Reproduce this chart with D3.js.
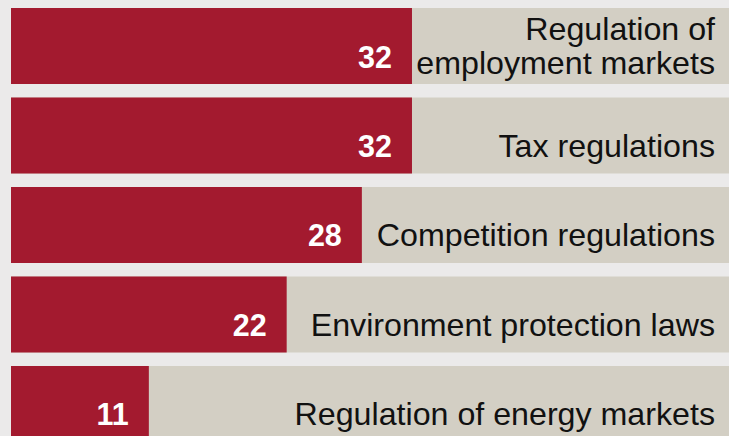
<!DOCTYPE html>
<html>
<head>
<meta charset="utf-8">
<script src="https://cdn.jsdelivr.net/npm/d3@7"></script>
<style>
  body { margin: 0; background: #ebeaea; }
  svg { display: block; }
  text { font-family: "Liberation Sans", Arial, sans-serif; }
</style>
</head>
<body>
<svg id="chart"></svg>
<script>
// categories (line breaks as in the original) and values
let categories = [
  ["Regulation of", "employment markets"],
  ["Tax regulations"],
  ["Competition regulations"],
  ["Environment protection laws"],
  ["Regulation of energy markets"]
];
let values = [32, 32, 28, 22, 11];

let width = 729, height = 436;

let svg = d3.select("#chart")
  .attr("width", width)
  .attr("height", height);

svg.append("rect")
  .attr("width", width)
  .attr("height", height)
  .attr("fill", "#ebeaea");

let x = d3.scaleLinear()
  .domain([0, 57.3])
  .range([11, width]);

let y = d3.scaleBand()
  .domain(d3.range(values.length))
  .range([8, 442])
  .paddingInner(0.1508)
  .paddingOuter(0);

let rows = svg.selectAll(".row")
  .data(values)
  .enter().append("g")
  .attr("class", "row")
  .attr("transform", (d, i) => "translate(0," + y(i) + ")");

// beige background bar, full width
rows.append("rect")
  .attr("x", x(0))
  .attr("y", 0)
  .attr("width", width - x(0))
  .attr("height", y.bandwidth())
  .attr("fill", "#d3cfc4");

// red value bar
rows.append("rect")
  .attr("x", x(0))
  .attr("y", 0)
  .attr("width", d => x(d) - x(0))
  .attr("height", y.bandwidth())
  .attr("fill", "#a31a2f");

// value labels
rows.append("text")
  .attr("x", d => x(d) - 20)
  .attr("y", 59.5)
  .attr("text-anchor", "end")
  .attr("fill", "#ffffff")
  .style("font-size", "30.5px")
  .style("font-weight", "bold")
  .text(d => d);

// category labels
let labels = rows.append("text")
  .attr("text-anchor", "end")
  .attr("fill", "#111111")
  .style("font-size", "32.2px");

labels.each(function(d, i) {
  let lines = categories[i];
  let t = d3.select(this);
  let first = lines.length > 1 ? 32 : 59.5;
  lines.forEach(function(line, j) {
    t.append("tspan")
      .attr("x", 715)
      .attr("y", first + j * 34)
      .text(line);
  });
});
</script>
</body>
</html>
